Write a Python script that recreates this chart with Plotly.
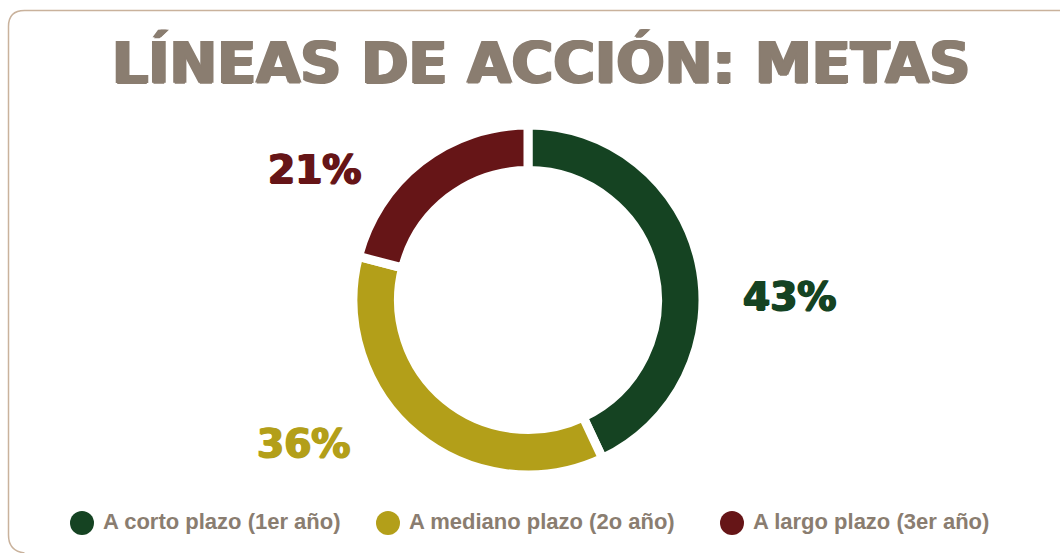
import plotly.graph_objects as go

# Data
categories = ["A corto plazo (1er año)", "A mediano plazo (2o año)", "A largo plazo (3er año)"]
values = [43, 36, 21]
colors = ["#154322", "#b39f19", "#661517"]

W, H = 1060, 553
TEXT_GREY = "#8a7d70"

# Donut geometry in pixels
cx, cy, r = 528, 300, 175


def thick(col, d=1):
    """CSS text-shadow that makes glyphs look heavier."""
    return f"{d}px 0 0 {col}, -{d}px 0 0 {col}, 0 {d*0.5}px 0 {col}"


fig = go.Figure()

fig.add_trace(go.Pie(
    labels=categories,
    values=values,
    hole=0.74,
    sort=False,
    direction="clockwise",
    rotation=0,
    marker=dict(colors=colors, line=dict(color="white", width=9)),
    textinfo="none",
    hoverinfo="label+percent",
    showlegend=False,
    domain=dict(x=[(cx - r) / W, (cx + r) / W], y=[(H - cy - r) / H, (H - cy + r) / H]),
))

# Key row under the chart: round swatches followed by their category names
key_x = [82, 388, 732]
key_y = H - 523
fig.add_trace(go.Scatter(
    x=key_x, y=[key_y] * len(key_x), mode="markers",
    marker=dict(symbol="circle", size=24, color=colors, line=dict(width=0)),
    hoverinfo="skip", showlegend=False,
))
fig.add_trace(go.Scatter(
    x=[k + 21 for k in key_x], y=[key_y] * len(key_x), mode="text",
    text=[f"<b>{c}</b>" for c in categories], textposition="middle right",
    textfont=dict(family="Liberation Sans", size=22, color=TEXT_GREY),
    hoverinfo="skip", showlegend=False,
))

# Percentage labels placed around the ring
label_pos = [(790, 296), (303, 443), (314, 170)]
total = sum(values)
for v, col, (px, py) in zip(values, colors, label_pos):
    fig.add_annotation(
        x=px / W, y=1 - py / H, xref="paper", yref="paper",
        text=f"<b>{round(100 * v / total)}%</b>", showarrow=False,
        xanchor="center", yanchor="middle",
        font=dict(family="DejaVu Sans", size=39, color=col, shadow=thick(col, 1)),
    )

# Title
fig.add_annotation(
    x=541 / W, y=1 - 62 / H, xref="paper", yref="paper",
    text="<b>LÍNEAS DE ACCIÓN: METAS</b>", showarrow=False,
    xanchor="center", yanchor="middle",
    font=dict(family="DejaVu Sans", size=57, color=TEXT_GREY, shadow=thick(TEXT_GREY, 1.5)),
)

# Rounded frame open on the right side
x0, y0, rad = 8.5, 10.5, 16
frame = (f"M {W + 5},{H - y0} L {x0 + rad},{H - y0} "
         f"Q {x0},{H - y0} {x0},{H - y0 - rad} "
         f"L {x0},{rad + 2} Q {x0},{2} {x0 + rad},{0}")
fig.add_shape(type="path", xref="x", yref="y", path=frame,
              line=dict(color="#c9b29c", width=1.5), layer="below")

fig.update_layout(
    width=W, height=H,
    margin=dict(l=0, r=0, t=0, b=0),
    paper_bgcolor="white", plot_bgcolor="rgba(0,0,0,0)",
    xaxis=dict(visible=False, range=[0, W], domain=[0, 1], fixedrange=True),
    yaxis=dict(visible=False, range=[0, H], domain=[0, 1], fixedrange=True),
    showlegend=False,
)

fig.write_html("out.html")
